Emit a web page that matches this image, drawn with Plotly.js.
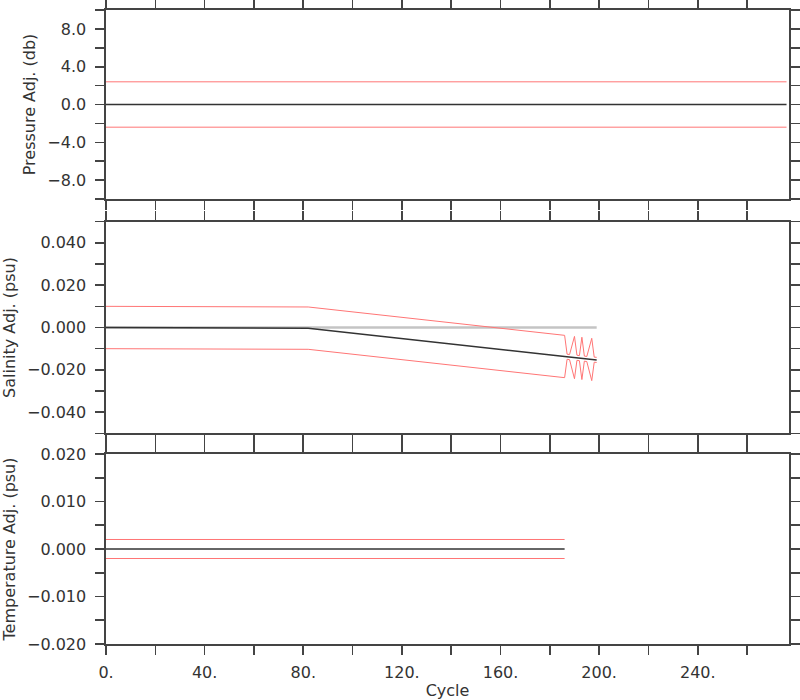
<!DOCTYPE html>
<html><head><meta charset="utf-8">
<script src="https://cdn.plot.ly/plotly-3.0.1.min.js"></script>
<style>body{margin:0;background:#fff}</style>
</head><body><div id="chart" style="width:800px;height:700px"></div>
<script>
// ---- data ----
const presCycles = [0, 276];
const presAdj    = [0, 0];
const presErr    = [2.4, 2.4];

const salCycles = [0, 81, 82, 186, 187, 188, 190, 191, 192, 193, 194, 195, 197, 198, 199];
const salAdj    = [0, 0, -0.0003, -0.0137, -0.0138, -0.0140, -0.0142, -0.0143, -0.0145, -0.0146, -0.0147, -0.0149, -0.0151, -0.0152, -0.0153];
const salErr    = [0.010, 0.010, 0.010, 0.010, 0.0012, 0.0012, 0.010, 0.0012, 0.0012, 0.010, 0.0012, 0.0012, 0.010, 0.0012, 0.0012];
const salZeroCycles = [0, 199];
const salZero       = [0, 0];

const tempCycles = [0, 186];
const tempAdj    = [0, 0];
const tempErr    = [0.002, 0.002];

const xTickVals = [0,20,40,60,80,100,120,140,160,180,200,220,240,260];
const xTickText = ['0.','','40.','','80.','','120.','','160.','','200.','','240.',''];
const presTickVals = [-10,-8,-6,-4,-2,0,2,4,6,8,10];
const presTickText = ['','\u22128.0','','\u22124.0','','0.0','','4.0','','8.0',''];
const salTickVals = [-0.05,-0.04,-0.03,-0.02,-0.01,0,0.01,0.02,0.03,0.04,0.05];
const salTickText = ['','\u22120.040','','\u22120.020','','0.000','','0.020','','0.040',''];
const tempTickVals = [-0.02,-0.015,-0.01,-0.005,0,0.005,0.01,0.015,0.02];
const tempTickText = ['\u22120.020','','\u22120.010','','0.000','','0.010','','0.020'];

// ---- build traces ----
const RED = '#ff7575', BLK = '#333333', GRY = '#c4c4c4';
function add(a, b, s){ return a.map((v,i)=>v + s*b[i]); }
function line(x, y, color, w, xa, ya){
  return {x:x, y:y, type:'scatter', mode:'lines', line:{color:color, width:w}, xaxis:xa, yaxis:ya, hoverinfo:'skip'};
}
const traces = [
  line(presCycles, add(presAdj,presErr,1), RED, 1, 'x', 'y'),
  line(presCycles, add(presAdj,presErr,-1), RED, 1, 'x', 'y'),
  line(presCycles, presAdj, BLK, 1.5, 'x', 'y'),

  line(salZeroCycles, salZero, GRY, 2.5, 'x2', 'y2'),
  line(salCycles, add(salAdj,salErr,1), RED, 1, 'x2', 'y2'),
  line(salCycles, add(salAdj,salErr,-1), RED, 1, 'x2', 'y2'),
  line(salCycles, salAdj, BLK, 1.5, 'x2', 'y2'),

  line(tempCycles, add(tempAdj,tempErr,1), RED, 1, 'x3', 'y3'),
  line(tempCycles, add(tempAdj,tempErr,-1), RED, 1, 'x3', 'y3'),
  line(tempCycles, tempAdj, BLK, 1.5, 'x3', 'y3')
];

const FONT = {family:'DejaVu Sans, sans-serif', size:16, color:'#333'};
const AX = {showline:true, linecolor:'#444', linewidth:1.6, mirror:'ticks', ticks:'outside',
            ticklen:9, tickwidth:1.6, tickcolor:'#444', showgrid:false, zeroline:false,
            tickfont:FONT, fixedrange:true};
function xax(anchor, labels){
  return Object.assign({}, AX, {anchor:anchor, range:[0,277], tickmode:'array', tickvals:xTickVals,
    ticktext:xTickText, showticklabels:labels, ticklabelstandoff:4});
}
function yax(anchor, dom, range, tv, tt, title){
  return Object.assign({}, AX, {anchor:anchor, domain:dom, range:range, tickmode:'array', tickvals:tv,
    ticktext:tt, ticklabelstandoff:6, title:{text:title, font:FONT, standoff:8}});
}
const layout = {
  width:800, height:700,
  margin:{l:106, r:11, t:10, b:56},
  paper_bgcolor:'#fff', plot_bgcolor:'#fff',
  showlegend:false,
  font:FONT,
  xaxis: xax('y', false),
  xaxis2: xax('y2', false),
  xaxis3: Object.assign(xax('y3', true), {title:{text:'Cycle', font:FONT, standoff:6}}),
  yaxis: yax('x', [0.7019, 1], [-10, 10], presTickVals, presTickText, 'Pressure Adj. (db)'),
  yaxis2: yax('x2', [0.3323, 0.6661], [-0.05, 0.05], salTickVals, salTickText, 'Salinity Adj. (psu)'),
  yaxis3: yax('x3', [0, 0.2997], [-0.02, 0.02], tempTickVals, tempTickText, 'Temperature Adj. (psu)')
};
Plotly.newPlot('chart', traces, layout, {displayModeBar:false, staticPlot:true});
</script>
</body></html>
